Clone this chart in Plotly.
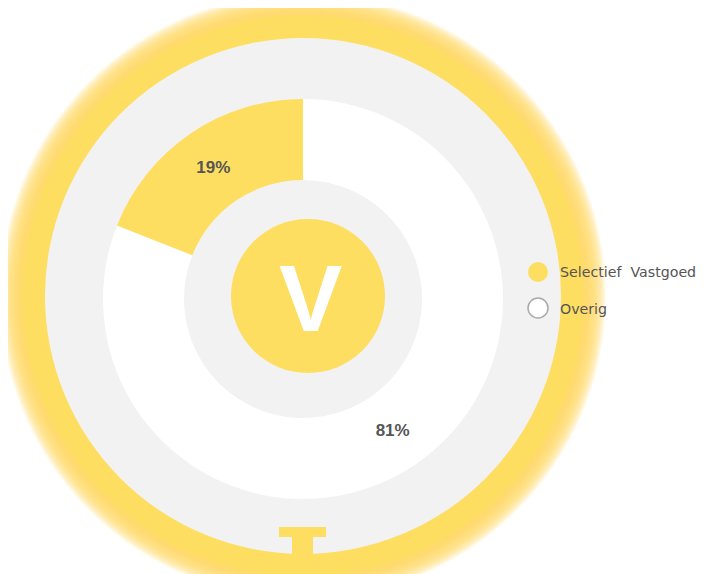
import plotly.graph_objects as go

# window is 707x574; the page body has an 8px margin, so the figure is sized to fit
W, H = 699, 566
OFF = 8

categories = ["Selectief  Vastgoed", "Overig"]
values = [19, 81]

YELLOW = "#FDDE60"
GRAY = "#F2F2F2"
TEXT = "#555555"
slice_colors = [YELLOW, "#FFFFFF"]


def px(x):
    return (x - OFF) / W


def py(y):
    return 1 - (y - OFF) / H


def circle(cx, cy, r, fill, line_color=None, line_width=0, opacity=1.0):
    return dict(
        type="circle", xref="paper", yref="paper", layer="below",
        x0=px(cx - r), x1=px(cx + r), y0=py(cy + r), y1=py(cy - r),
        fillcolor=fill, opacity=opacity,
        line=dict(color=line_color or fill, width=line_width),
    )


def rect(x0, y0, x1, y1, fill):
    return dict(
        type="rect", xref="paper", yref="paper", layer="below",
        x0=px(x0), x1=px(x1), y0=py(y1), y1=py(y0),
        fillcolor=fill, line=dict(width=0),
    )


CX, CY = 303, 299
R_OUT = 200

shapes = []
# soft glow
for r in range(303, 280, -1):
    shapes.append(circle(CX, 296, r, YELLOW, opacity=0.11))
shapes.append(circle(CX, 296, 280, YELLOW))
# gray ring
shapes.append(circle(CX, 296, 258, GRAY))
# inner gray disk (fills pie hole)
shapes.append(circle(CX, CY, 119, GRAY))
# inner yellow disk
shapes.append(circle(308, 296, 77, YELLOW))
# T symbol at the bottom
shapes.append(rect(279, 527, 326, 537, YELLOW))
shapes.append(rect(292, 537, 313, 580, YELLOW))
# legend markers
shapes.append(circle(538, 272, 10, YELLOW))
shapes.append(circle(538, 308, 10, "#FFFFFF", line_color="#AAAAAA", line_width=1.5))

# slices drawn clockwise from 12 o'clock; reversed so the first category ends at 12 o'clock
fig = go.Figure(
    go.Pie(
        labels=categories[::-1],
        values=values[::-1],
        hole=0.595,
        sort=False,
        direction="clockwise",
        rotation=0,
        marker=dict(colors=slice_colors[::-1], line=dict(width=0)),
        textinfo="percent",
        textposition="inside",
        insidetextorientation="horizontal",
        textfont=dict(family="Liberation Sans", size=17, color=TEXT, weight="bold"),
        hoverinfo="skip",
        showlegend=False,
        domain=dict(x=[px(CX - R_OUT), px(CX + R_OUT)], y=[py(CY + R_OUT), py(CY - R_OUT)]),
    )
)

annotations = [
    dict(text="<b>V</b>", x=px(310), y=py(298), xref="paper", yref="paper",
         showarrow=False, font=dict(family="Liberation Sans", size=95, color="#FFFFFF"),
         xanchor="center", yanchor="middle"),
]
for name, yy in zip(categories, [272, 309]):
    annotations.append(dict(
        text=name, x=px(558), y=py(yy), xref="paper", yref="paper",
        showarrow=False, font=dict(family="DejaVu Sans", size=14.2, color=TEXT),
        xanchor="left", yanchor="middle",
    ))

fig.update_layout(
    width=W, height=H,
    margin=dict(l=0, r=0, t=0, b=0),
    paper_bgcolor="#FFFFFF",
    plot_bgcolor="rgba(0,0,0,0)",
    shapes=shapes,
    annotations=annotations,
    showlegend=False,
)

fig.write_html("out.html")
